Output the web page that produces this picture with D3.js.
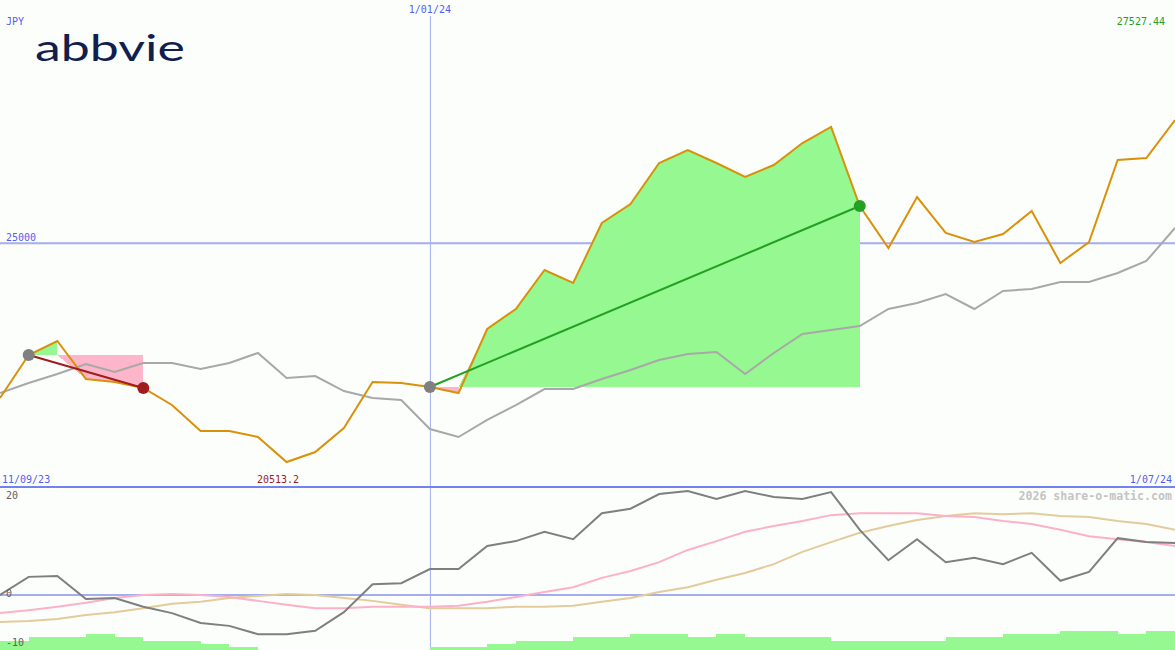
<!DOCTYPE html>
<html><head><meta charset="utf-8">
<script src="https://cdn.jsdelivr.net/npm/d3@7"></script>
<style>html,body{margin:0;padding:0;background:#fcfefc;overflow:hidden}</style>
</head><body><svg id="c" width="1175" height="650"></svg>
<script>
const dates = ["18/09/23","25/09/23","2/10/23","9/10/23","16/10/23","23/10/23","30/10/23","6/11/23","13/11/23","20/11/23","27/11/23","4/12/23","11/12/23","18/12/23","25/12/23","1/01/24","8/01/24","15/01/24","22/01/24","29/01/24","5/02/24","12/02/24","19/02/24","26/02/24","4/03/24","11/03/24","18/03/24","25/03/24","1/04/24","8/04/24","15/04/24","22/04/24","29/04/24","6/05/24","13/05/24","20/05/24","27/05/24","3/06/24","10/06/24","17/06/24","24/06/24","1/07/24"];
const price = [21826,22708,22995,22215,22154,22031,21682,21149,21150,21026,20513.2,20718,21211,22154,22133,22051,21928,23241,23651,24451,24184,25415,25804,26645,26912,26645,26358,26604,27055,27384,25763,24902,25948,25210,25025,25189,25661,24594,25025,26707,26748,27527.44];
const movingAvg = [21928,22133,22318,22523,22359,22543,22543,22420,22543,22749,22236,22277,21969,21826,21785,21190,21026,21375,21682,22010,22010,22215,22400,22605,22728,22769,22318,22749,23138,23220,23302,23651,23774,23959,23651,24020,24061,24205,24205,24389,24635,25312];
const oscillator = [0,3.7,3.9,-0.8,-0.6,-2.4,-3.7,-5.7,-6.3,-8.0,-8.0,-7.3,-3.5,2.2,2.4,5.3,5.3,10.0,11.0,12.9,11.4,16.7,17.6,20.6,21.2,19.6,21.2,20.0,19.6,21.0,13.3,7.1,11.4,6.7,7.6,6.3,8.6,2.9,4.7,11.6,10.8,10.6];
const oscFast = [-3.7,-3.1,-2.4,-1.6,-0.6,0,0.2,0,-0.4,-1.2,-2.0,-2.7,-2.7,-2.4,-2.4,-2.4,-2.2,-1.4,-0.4,0.6,1.6,3.5,4.9,6.7,9.2,11.0,12.9,14.1,15.1,16.3,16.7,16.7,16.7,16.1,15.9,15.1,14.5,13.3,12.0,11.4,10.8,10.0];
const oscSlow = [-5.5,-5.3,-4.9,-4.1,-3.5,-2.7,-1.8,-1.4,-0.6,-0.2,0.2,0,-0.6,-1.2,-2.0,-2.7,-2.7,-2.7,-2.4,-2.4,-2.2,-1.4,-0.6,0.6,1.6,3.1,4.5,6.3,8.8,10.8,12.7,14.1,15.3,16.1,16.7,16.5,16.7,16.1,15.9,15.1,14.5,13.3];
const volumeBars = [3,4,4,5,4,3,3,2,1,0,0,0,0,0,0,1,1,2,3,3,4,4,5,5,4,5,4,4,4,3,3,3,3,4,4,5,5,6,6,5,6];
const trades = [{entry:1, exit:5}, {entry:15, exit:30}];
const priceTicks = [25000];
const oscTicks = [20, 0, -10];
const startLabel = "11/09/23", midLabel = "1/01/24", endLabel = "1/07/24";
const currency = "JPY";
const brand = "abbvie";
const credit = "2026 share-o-matic.com";

const W = 1175, H = 650;
const svg = d3.select("#c");
svg.append("rect").attr("width", W).attr("height", H).attr("fill", "#fcfefc");

const x = d3.scalePoint().domain(dates).range([0, W]);
const yP = d3.scaleLinear().domain([d3.min(price), d3.max(price)]).range([462, 120]);
const yO = d3.scaleLinear().domain([-10, 20]).range([644, 497]);
const yB = d3.scaleLinear().domain([0, 6]).range([650, 631]);
const X = i => x(dates[i]);

const mono = "'DejaVu Sans Mono', monospace";
const blue = "#4f5ff2";

// grid / reference lines
priceTicks.forEach(t => {
  svg.append("line").attr("x1", 0).attr("x2", W).attr("y1", yP(t)).attr("y2", yP(t))
    .attr("stroke", "#a3adf0").attr("stroke-width", 2);
});
const midIdx = dates.indexOf(midLabel);
svg.append("line").attr("x1", X(midIdx) + 0.5).attr("x2", X(midIdx) + 0.5).attr("y1", 16).attr("y2", H)
  .attr("stroke", "#a3adf0").attr("stroke-width", 1);
svg.append("line").attr("x1", 0).attr("x2", W).attr("y1", 487).attr("y2", 487)
  .attr("stroke", "#7282ee").attr("stroke-width", 2);
svg.append("line").attr("x1", 0).attr("x2", W).attr("y1", yO(0)).attr("y2", yO(0))
  .attr("stroke", "#a3adf0").attr("stroke-width", 2);

// trade fills: per segment, between the price (clamped to one side) and the entry level
trades.forEach(t => {
  const L = yP(price[t.entry]);
  for (let i = t.entry; i < t.exit; i++) {
    const up = price[i + 1] >= price[t.entry];
    const clamp = v => up ? Math.min(yP(v), L) : Math.max(yP(v), L);
    const area = d3.area().x(j => X(j)).y0(L).y1(j => clamp(price[j]));
    svg.append("path").attr("d", area([i, i + 1]))
      .attr("fill", up ? "#96f890" : "#fdb6c9")
      .attr("shape-rendering", "crispEdges");
  }
});

// moving average & price
const line = arr => d3.line().x((d, i) => X(i)).y(d => yP(d))(arr);
svg.append("path").attr("d", line(movingAvg)).attr("fill", "none").attr("stroke", "#a8a8a8").attr("stroke-width", 2);
svg.append("path").attr("d", line(price)).attr("fill", "none").attr("stroke", "#d9910a").attr("stroke-width", 2);

// trades
trades.forEach(t => {
  const win = price[t.exit] >= price[t.entry];
  const col = win ? "#22a022" : "#a11c1c";
  svg.append("line").attr("x1", X(t.entry)).attr("y1", yP(price[t.entry]))
    .attr("x2", X(t.exit)).attr("y2", yP(price[t.exit])).attr("stroke", col).attr("stroke-width", 2);
  svg.append("circle").attr("cx", X(t.entry)).attr("cy", yP(price[t.entry])).attr("r", 6).attr("fill", "#808080");
  svg.append("circle").attr("cx", X(t.exit)).attr("cy", yP(price[t.exit])).attr("r", 6).attr("fill", col);
});

// lower panel
volumeBars.forEach((v, i) => {
  if (v <= 0) return;
  svg.append("rect").attr("x", X(i)).attr("width", X(i + 1) - X(i)).attr("y", yB(v)).attr("height", yB(0) - yB(v))
    .attr("fill", "#96f890").attr("shape-rendering", "crispEdges");
});
const lineO = arr => d3.line().x((d, i) => X(i)).y(d => yO(d))(arr);
svg.append("path").attr("d", lineO(oscSlow)).attr("fill", "none").attr("stroke", "#e3cb9c").attr("stroke-width", 2);
svg.append("path").attr("d", lineO(oscFast)).attr("fill", "none").attr("stroke", "#fdb1c6").attr("stroke-width", 2);
svg.append("path").attr("d", lineO(oscillator)).attr("fill", "none").attr("stroke", "#7f7f7f").attr("stroke-width", 2);

// texts
const txt = (s, xx, yy, col, anchor, size, weight) =>
  svg.append("text").attr("x", xx).attr("y", yy).attr("fill", col).attr("text-anchor", anchor || "start")
    .attr("font-family", mono).attr("font-size", size || 10).attr("font-weight", weight || "normal").text(s);

txt(currency, 6, 25, blue);
txt(midLabel, X(midIdx), 13, blue, "middle");
txt(d3.format(".2f")(d3.max(price)), 1165, 25, "#22a022", "end");
priceTicks.forEach(t => txt(t, 6, yP(t) - 2, blue));
txt(startLabel, 2, 483, blue);
txt(d3.min(price), 278, 483, "#a11c1c", "middle");
txt(endLabel, 1172, 483, blue, "end");
oscTicks.forEach(t => txt(t, 6, yO(t) + 2, "#606060"));
txt(credit, 1172, 500, "#c4c4c4", "end", 11.6, "bold");

svg.append("text").attr("x", 35).attr("y", 61).attr("fill", "#101f4e")
  .attr("font-family", "Lato, 'Noto Sans', sans-serif").attr("font-weight", 400).attr("font-size", 37)
  .attr("textLength", 150).attr("lengthAdjust", "spacingAndGlyphs").text(brand);
</script></body></html>
